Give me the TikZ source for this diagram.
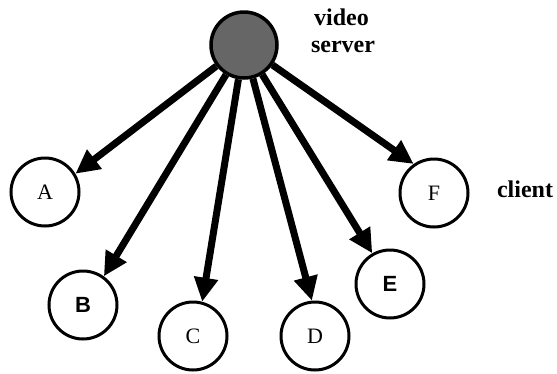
\documentclass[tikz,border=0pt]{standalone}
\usepackage{fontspec}
\setmainfont{Liberation Serif}
\setsansfont{Liberation Sans}
\usetikzlibrary{arrows.meta}
\definecolor{srvgray}{RGB}{102,102,102}

\begin{document}
\begin{tikzpicture}[x=1pt,y=-1pt,
  server/.style={circle,draw,line width=3.5pt,fill=srvgray,minimum size=66pt,inner sep=0pt},
  client/.style={circle,draw,line width=3pt,minimum size=68pt,inner sep=0pt,font=\fontsize{22}{22}\selectfont},
  sclient/.style={client,font=\fontsize{22}{22}\selectfont\sffamily\bfseries},
  txt/.style={font=\fontsize{24}{24}\selectfont\bfseries,anchor=base},
  feed/.style={line width=7pt,-{Triangle[length=24pt,width=23pt]}}]
\useasboundingbox (0,0) rectangle (557,373);
\node[server] (srv) at (244,45) {};
\node[txt] (video) at (341.5,25) {video};
\node[txt] (srvtxt) at (343,52) {server};
% clients
\node[client] (a) at (45,192) {A};
\node[sclient] (b) at (83,305) {B};
\node[client] (c) at (193,336) {C};
\node[client] (d) at (315,336) {D};
\node[sclient] (e) at (390,284) {E};
\node[client] (f) at (434,193) {F};
\node[txt] (cl) at (525,197) {client};
% streams from the server
\draw[feed] (srv) -- (a.31);
\draw[feed] (srv) -- (b.54);
\draw[feed] (srv) -- (c.75);
\draw[feed] (srv) -- (d.95);
\draw[feed] (srv) -- (e.120);
\draw[feed] (srv) -- (f.125);
\end{tikzpicture}
\end{document}
